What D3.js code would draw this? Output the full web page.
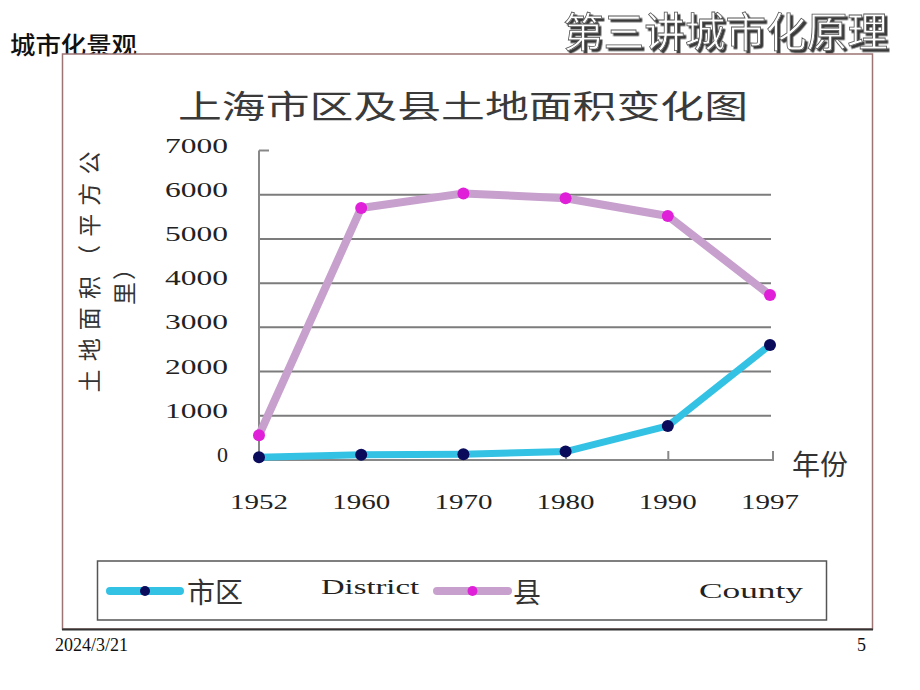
<!DOCTYPE html>
<html>
<head>
<meta charset="utf-8">
<script src="https://cdn.jsdelivr.net/npm/d3@7"></script>
<style>
body { margin:0; background:#fff; }
svg { display:block; }
.cjk { font-family:"Noto Sans CJK SC", sans-serif; }
.num { font-family:"Liberation Serif", "DejaVu Serif", serif; fill:#222; }
</style>
</head>
<body>
<svg id="chart" width="920" height="690"></svg>
<script>
// donnees (km2)
var years = ["1952", "1960", "1970", "1980", "1990", "1997"];
var district = [60, 120, 130, 190, 770, 2600];   // 市区
var county = [560, 5700, 6030, 5920, 5520, 3730]; // 县
var yticks = [0, 1000, 2000, 3000, 4000, 5000, 6000, 7000];
var gridticks = [1000, 2000, 3000, 4000, 5000, 6000];
var legend_zh = ["市区", "县"];
var legend_en = ["District", "County"];

var cyan = "#33c2e4", navy = "#0b0b5c";
var mauve = "#c8a0ce", magenta = "#e020d8";

var svg = d3.select("#chart");

var x = d3.scalePoint().domain(years).range([259, 770]);
var y = d3.scaleLinear().domain([0, 7000]).range([460, 150.5]);

// ombre du titre de la diapo
var filt = svg.append("defs").append("filter").attr("id", "ombre")
	.attr("x", "-5%").attr("y", "-20%").attr("width", "110%").attr("height", "140%");
filt.append("feDropShadow").attr("dx", 2.5).attr("dy", 2.5).attr("stdDeviation", 0.6)
	.attr("flood-color", "#222").attr("flood-opacity", 0.9);

// en-tetes de la diapo
svg.append("text").attr("class", "cjk")
	.attr("x", 10).attr("y", 54)
	.attr("textLength", 127).attr("lengthAdjust", "spacingAndGlyphs")
	.style("font-size", "24px").style("font-weight", 500).style("fill", "#111")
	.text("城市化景观");
svg.append("text").attr("class", "cjk")
	.attr("x", 563).attr("y", 47)
	.attr("textLength", 325).attr("lengthAdjust", "spacingAndGlyphs")
	.attr("filter", "url(#ombre)")
	.style("font-size", "41px").style("fill", "#fff")
	.style("stroke", "#555").style("stroke-width", 0.8)
	.text("第三讲城市化原理");

// cadre de l'image
svg.append("rect")
	.attr("x", 62.5).attr("y", 54).attr("width", 810).attr("height", 575)
	.style("fill", "#fff").style("stroke", "#9c7474").style("stroke-width", 1.5);
svg.append("line")
	.attr("x1", 62).attr("y1", 629.5).attr("x2", 873).attr("y2", 629.5)
	.style("stroke", "#333").style("stroke-width", 2);

// titre
svg.append("text").attr("class", "cjk")
	.attr("x", 178).attr("y", 104).attr("dominant-baseline", "central")
	.attr("textLength", 570).attr("lengthAdjust", "spacingAndGlyphs")
	.style("font-size", "32px").style("fill", "#3a3a3a")
	.text("上海市区及县土地面积变化图");

// grille
svg.selectAll(".grid").data(gridticks).enter().append("line")
	.attr("class", "grid")
	.attr("x1", x.range()[0]).attr("x2", x.range()[1] + 1)
	.attr("y1", function(d) { return y(d); }).attr("y2", function(d) { return y(d); })
	.style("stroke", "#7c7c7c").style("stroke-width", 2);

// axe y
var yaxis = svg.append("g").attr("transform", "translate(" + x.range()[0] + ",0)")
	.call(d3.axisLeft(y).tickValues(yticks).tickSize(0).tickPadding(31).tickFormat(d3.format("d")));
yaxis.select(".domain").remove();
yaxis.selectAll("text").attr("class", "num")
	.attr("dy", null).attr("y", -6).attr("dominant-baseline", "central")
	.style("font-size", "22px")
	.each(function(d) {
		if (d >= 1000) d3.select(this).attr("textLength", 63).attr("lengthAdjust", "spacingAndGlyphs");
	});
svg.append("line")
	.attr("x1", x.range()[0]).attr("x2", x.range()[0])
	.attr("y1", y(7000)).attr("y2", y(0))
	.style("stroke", "#888").style("stroke-width", 2);
svg.append("line")
	.attr("x1", x.range()[0]).attr("x2", x.range()[0] + 10)
	.attr("y1", y(7000)).attr("y2", y(7000))
	.style("stroke", "#888").style("stroke-width", 2);

// axe x
var xaxis = svg.append("g").attr("transform", "translate(0," + y(0) + ")")
	.call(d3.axisTop(x).tickSize(9).tickFormat(""));
xaxis.select(".domain").attr("d", "M" + x.range()[0] + ",0H" + (x.range()[1] + 3) + "V-9")
	.style("stroke", "#888").style("stroke-width", 2);
xaxis.selectAll(".tick line").style("stroke", "#888").style("stroke-width", 2);
xaxis.selectAll(".tick").filter(function(d, i) { return i == 0 || i == years.length - 1; }).remove();

svg.selectAll(".xlab").data(years).enter().append("text")
	.attr("class", "num xlab")
	.attr("x", function(d) { return x(d) - 29; }).attr("y", 501)
	.attr("dominant-baseline", "central")
	.attr("textLength", 58).attr("lengthAdjust", "spacingAndGlyphs")
	.style("font-size", "22px")
	.text(function(d) { return d; });

svg.append("text").attr("class", "cjk")
	.attr("x", 792).attr("y", 463).attr("dominant-baseline", "central")
	.style("font-size", "28px").style("fill", "#333")
	.text("年份");

// titre axe y (vertical)
svg.append("text").attr("class", "cjk")
	.attr("transform", "translate(88,272) rotate(-90)")
	.attr("text-anchor", "middle").attr("dominant-baseline", "central")
	.attr("textLength", 241).attr("lengthAdjust", "spacing")
	.style("font-size", "23px").style("fill", "#333")
	.text("土地面积（平方公");
svg.append("text").attr("class", "cjk")
	.attr("transform", "translate(123,281) rotate(-90)")
	.attr("text-anchor", "middle").attr("dominant-baseline", "central")
	.attr("textLength", 48).attr("lengthAdjust", "spacing")
	.style("font-size", "23px").style("fill", "#333")
	.text("里）");

// courbes
var line = d3.line()
	.x(function(d, i) { return x(years[i]); })
	.y(function(d) { return y(d); });

function draw_series(values, linecolor, dotcolor, width) {
	svg.append("path").datum(values)
		.attr("d", line)
		.style("fill", "none").style("stroke", linecolor)
		.style("stroke-width", width).style("stroke-linejoin", "round");
	svg.append("g").selectAll("circle").data(values).enter().append("circle")
		.attr("cx", function(d, i) { return x(years[i]); })
		.attr("cy", function(d) { return y(d); })
		.attr("r", 6)
		.style("fill", dotcolor);
}
draw_series(county, mauve, magenta, 8);
draw_series(district, cyan, navy, 7);

// legende
svg.append("rect")
	.attr("x", 97.5).attr("y", 561).attr("width", 729).attr("height", 59)
	.style("fill", "#fff").style("stroke", "#555").style("stroke-width", 1.5);

function legend_item(x1, x2, linecolor, dotcolor, zh, zhx, en, enx, eny, enw) {
	svg.append("line")
		.attr("x1", x1).attr("x2", x2).attr("y1", 591).attr("y2", 591)
		.style("stroke", linecolor).style("stroke-width", 8).style("stroke-linecap", "round");
	svg.append("circle").attr("cx", (x1 + x2) / 2).attr("cy", 591).attr("r", 5).style("fill", dotcolor);
	svg.append("text").attr("class", "cjk")
		.attr("x", zhx).attr("y", 591).attr("dominant-baseline", "central")
		.style("font-size", "28px").style("fill", "#333")
		.text(zh);
	svg.append("text").attr("class", "num")
		.attr("x", enx).attr("y", eny).attr("dominant-baseline", "central")
		.attr("textLength", enw).attr("lengthAdjust", "spacingAndGlyphs")
		.style("font-size", "22px")
		.text(en);
}
legend_item(110, 180, cyan, navy, legend_zh[0], 187, legend_en[0], 321, 586, 98);
legend_item(437, 508, mauve, magenta, legend_zh[1], 513, legend_en[1], 699, 590, 104);

// pied de page
svg.append("text").attr("class", "num")
	.attr("x", 55).attr("y", 651)
	.style("font-size", "18px").style("fill", "#111")
	.text("2024/3/21");
svg.append("text").attr("class", "num")
	.attr("x", 857).attr("y", 651)
	.style("font-size", "18px").style("fill", "#111")
	.text("5");
</script>
</body>
</html>
